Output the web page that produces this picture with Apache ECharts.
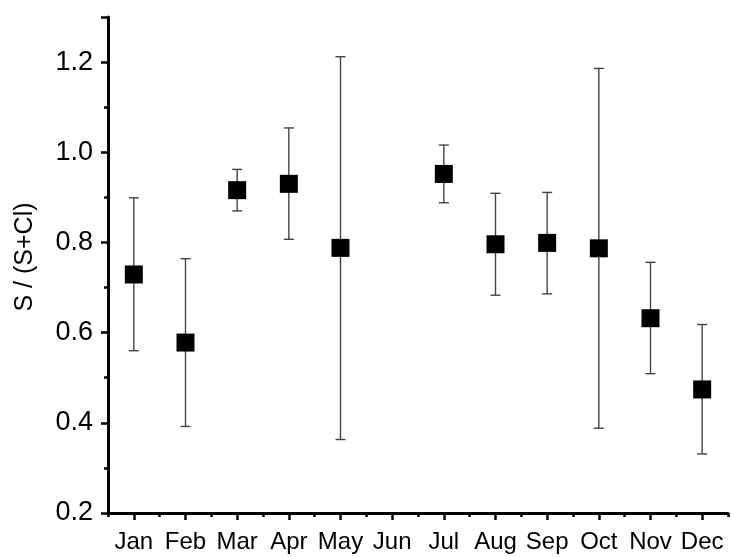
<!DOCTYPE html>
<html>
<head>
<meta charset="utf-8">
<script src="https://cdn.jsdelivr.net/npm/echarts@6/dist/echarts.min.js"></script>
<style>html,body{margin:0;padding:0;background:#fff;}#c{width:731px;height:557px;}</style>
</head>
<body>
<div id="c"></div>
<script>
var months = ['Jan','Feb','Mar','Apr','May','Jun','Jul','Aug','Sep','Oct','Nov','Dec'];
var means  = [0.729, 0.578, 0.916, 0.930, 0.788, null, 0.952, 0.796, 0.799, 0.787, 0.632, 0.474];
var upper  = [0.899, 0.764, 0.962, 1.054, 1.212, null, 1.016, 0.909, 0.911, 1.186, 0.756, 0.618];
var lower  = [0.560, 0.392, 0.870, 0.807, 0.363, null, 0.888, 0.683, 0.686, 0.388, 0.509, 0.331];

var font = '"Liberation Sans", Arial, sans-serif';
var errData = [], ptData = [];
for (var i = 0; i < months.length; i++) {
  if (means[i] == null) continue;
  errData.push([i, lower[i], upper[i]]);
  ptData.push([i, means[i]]);
}

var chart = echarts.init(document.getElementById('c'), null, {renderer: 'canvas'});
chart.setOption({
  animation: false,
  backgroundColor: '#fff',
  grid: {left: 108, right: 3, top: 17, bottom: 44, containLabel: false},
  xAxis: [{
    type: 'category', data: months, boundaryGap: true,
    axisLine: {show: true, lineStyle: {color: '#000', width: 3}},
    axisTick: {show: true, alignWithLabel: true, length: 7, inside: false, lineStyle: {color: '#000', width: 2.5}},
    axisLabel: {color: '#000', fontSize: 24, fontFamily: font, margin: 17, interval: 0},
    splitLine: {show: false}
  }, {
    type: 'category', data: months, boundaryGap: true, position: 'bottom',
    axisLine: {show: false},
    axisTick: {show: true, alignWithLabel: false, length: 4, lineStyle: {color: '#000', width: 2.5}},
    axisLabel: {show: false},
    splitLine: {show: false}
  }],
  yAxis: {
    type: 'value', min: 0.2, max: 1.3, interval: 0.2,
    name: 'S / (S+Cl)', nameLocation: 'middle', nameGap: 70,
    nameTextStyle: {color: '#000', fontSize: 25, fontFamily: font, padding: [0, 0, 0, 16]},
    axisLine: {show: true, lineStyle: {color: '#000', width: 3}},
    axisTick: {show: true, length: 7, lineStyle: {color: '#000', width: 2.5}},
    minorTick: {show: true, splitNumber: 2, length: 4, lineStyle: {color: '#000', width: 2.5}},
    axisLabel: {color: '#000', fontSize: 27, fontFamily: font, margin: 15, showMaxLabel: false,
      formatter: function (v) { return v.toFixed(1); }},
    splitLine: {show: false}
  },
  series: [{
    type: 'custom', xAxisIndex: 0,
    data: errData,
    renderItem: function (params, api) {
      var x = api.value(0);
      var lo = api.coord([x, api.value(1)]);
      var hi = api.coord([x, api.value(2)]);
      var hw = 5;
      var st = {stroke: '#444', lineWidth: 1.4};
      return {type: 'group', children: [
        {type: 'line', shape: {x1: lo[0], y1: lo[1], x2: hi[0], y2: hi[1]}, style: st},
        {type: 'line', shape: {x1: lo[0] - hw, y1: lo[1], x2: lo[0] + hw, y2: lo[1]}, style: st},
        {type: 'line', shape: {x1: hi[0] - hw, y1: hi[1], x2: hi[0] + hw, y2: hi[1]}, style: st}
      ]};
    },
    z: 2
  }, {
    type: 'scatter', xAxisIndex: 0,
    data: ptData, symbol: 'rect', symbolSize: 18,
    itemStyle: {color: '#000', opacity: 1}, z: 3
  }]
});
</script>
</body>
</html>
